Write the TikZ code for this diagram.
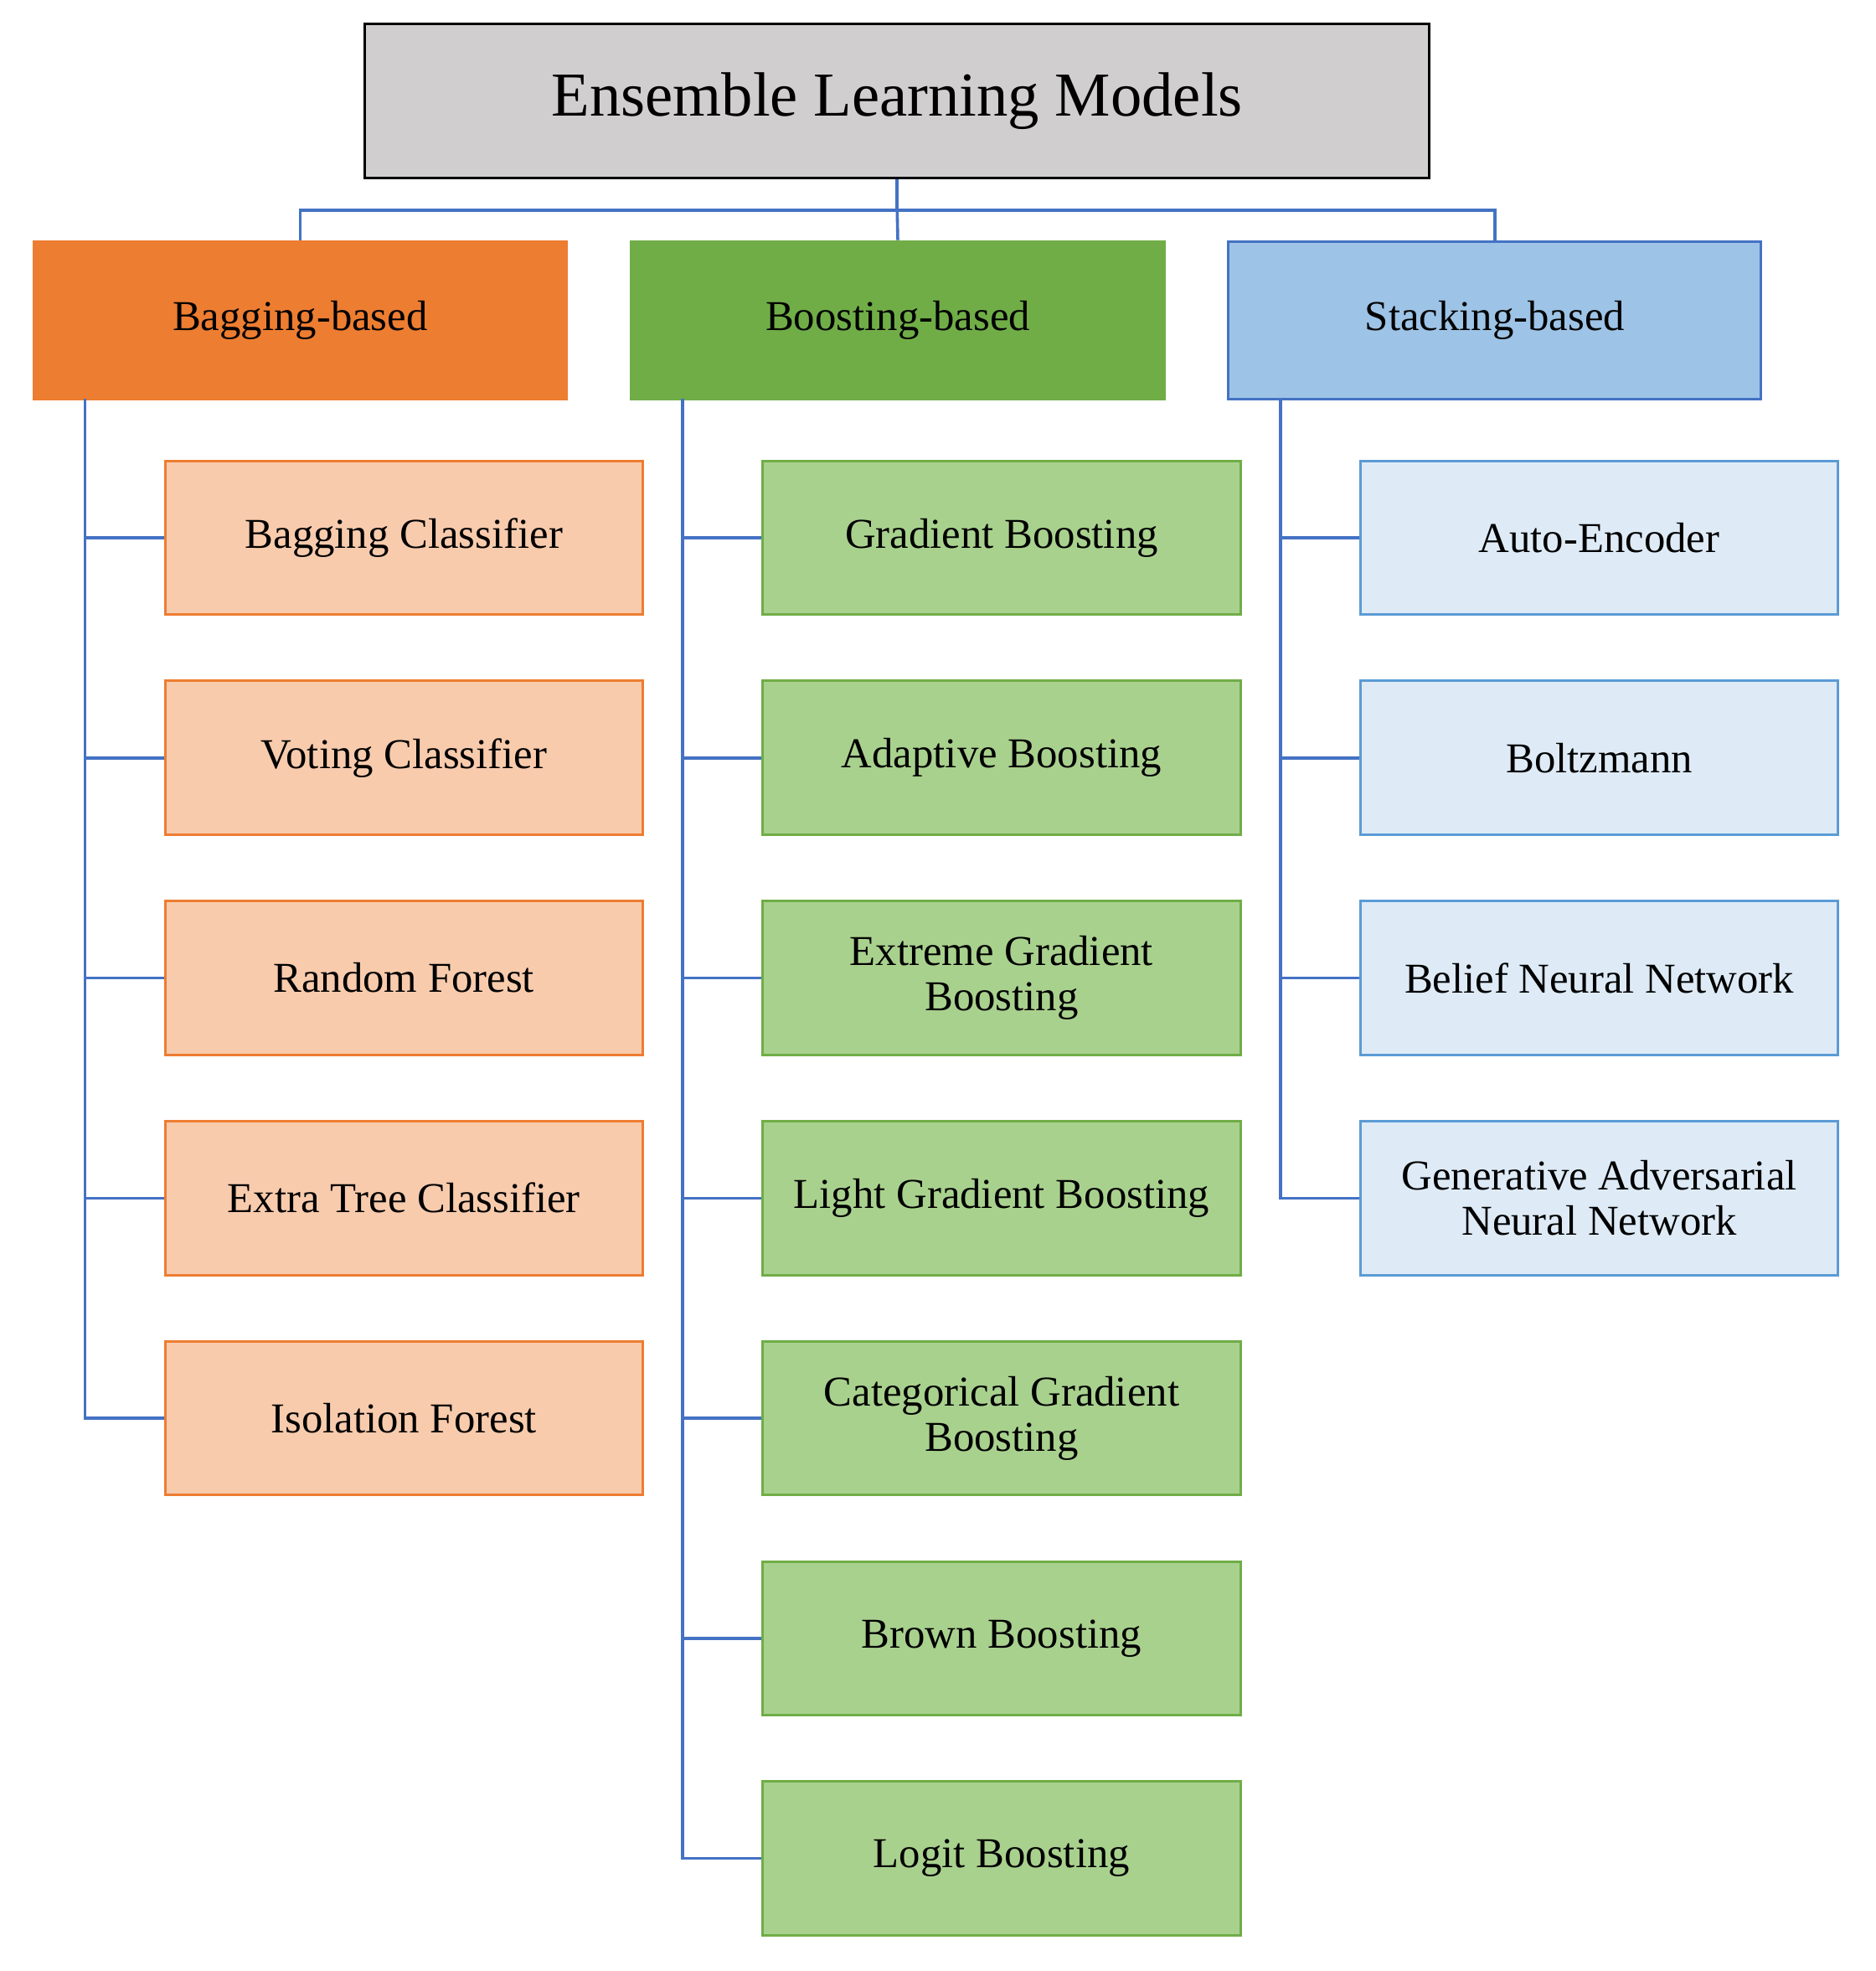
\documentclass[tikz,border=0pt]{standalone}
\usepackage{fontspec}
\setmainfont{Liberation Serif}
\begin{document}
\begin{tikzpicture}[x=0.5pt,y=-0.5pt,
  conn/.style={draw=lineblue,line width=1.2pt},
  box/.style={draw,line width=1pt,minimum width=191pt,minimum height=61.5pt,align=center,font=\fontsize{17}{18}\selectfont,inner sep=2pt},
  bag/.style={box,fill=bagc,draw=bagd},
  boo/.style={box,fill=booc,draw=bood},
  sta/.style={box,fill=stac,draw=stad},
  cat/.style={draw,line width=1pt,minimum width=213pt,minimum height=63pt,font=\fontsize{17}{18}\selectfont}]
\definecolor{lineblue}{HTML}{4472C4}
\definecolor{bagc}{HTML}{F8CBAD}\definecolor{bagd}{HTML}{ED7D31}
\definecolor{booc}{HTML}{A9D18E}\definecolor{bood}{HTML}{70AD47}
\definecolor{stac}{HTML}{DEEBF7}\definecolor{stad}{HTML}{5B9BD5}
\useasboundingbox (0,0) rectangle (1500,1576);
\node[draw=black,fill={rgb,255:red,208;green,206;blue,206},line width=1pt,minimum width=425.5pt,minimum height=61.5pt,font=\fontsize{25}{26}\selectfont] (root) at (717.5,80.5) {Ensemble Learning Models};
\node[cat,fill=bagd,draw=bagd] (bg) at (240,256) {Bagging-based};
\node[cat,fill=bood,draw=bood] (bo) at (718,256) {Boosting-based};
\node[cat,fill={rgb,255:red,157;green,195;blue,230},draw=lineblue] (st) at (1195.5,256) {Stacking-based};
\coordinate (j) at (717.5,168);
\draw[conn] (root.south) -- (j);
\draw[conn] (bg.north) |- (j) -| (st.north);
\draw[conn] (j) -- (bo.north);
\foreach \n/\t [count=\i] in {a/Bagging Classifier,b/Voting Classifier,c/Random Forest,d/Extra Tree Classifier,e/Isolation Forest}{
  \node[bag] (bg\n) at (323,254+176*\i) {\t};
  \draw[conn] (68,319) |- (bg\n.west);}
\foreach \n/\t [count=\i] in {a/Gradient Boosting,b/Adaptive Boosting,c/{Extreme Gradient\\Boosting},d/Light Gradient Boosting,e/{Categorical Gradient\\Boosting},f/Brown Boosting,g/Logit Boosting}{
  \node[boo] (bo\n) at (801,254+176*\i) {\t};
  \draw[conn] (546,319) |- (bo\n.west);}
\foreach \n/\t [count=\i] in {a/Auto-Encoder,b/Boltzmann,c/Belief Neural Network,d/{Generative Adversarial\\Neural Network}}{
  \node[sta] (st\n) at (1279,254+176*\i) {\t};
  \draw[conn] (1024,319) |- (st\n.west);}
\end{tikzpicture}
\end{document}
